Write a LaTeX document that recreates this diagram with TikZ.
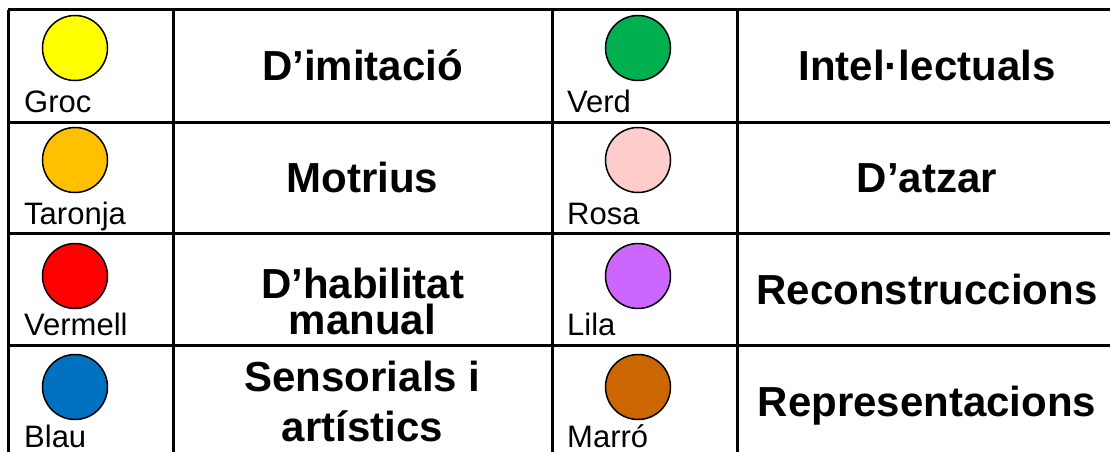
\documentclass[tikz,border=0pt]{standalone}
\usepackage{fontspec}
\setmainfont{Liberation Sans}

\definecolor{groc}{RGB}{255,255,0}
\definecolor{taronja}{RGB}{255,192,0}
\definecolor{vermell}{RGB}{255,0,0}
\definecolor{blau}{RGB}{0,112,192}
\definecolor{verd}{RGB}{0,176,80}
\definecolor{rosa}{RGB}{255,204,204}
\definecolor{lila}{RGB}{204,102,255}
\definecolor{marro}{RGB}{204,102,0}

\begin{document}
\begin{tikzpicture}[x=1pt,y=1pt,yscale=-1,xscale=1,
  dot/.style={circle,draw=black,line width=1.5pt,minimum size=65pt,inner sep=0pt},
  colname/.style={anchor=base west,inner sep=0pt,font=\fontsize{31}{31}\selectfont},
  kind/.style={inner sep=0pt,align=center,font=\bfseries\fontsize{42}{36}\selectfont},
  rule/.style={line width=3pt}]
\useasboundingbox (0,0) rectangle (1110,452);
\clip (0,0) rectangle (1110,452);

%Table lines
\draw [rule] (8,10) -- (1117,10) ;
\draw [rule] (8,122) -- (1117,122) ;
\draw [rule] (8,233) -- (1117,233) ;
\draw [rule] (8,345) -- (1117,345) ;
\draw [rule] (8,457) -- (1117,457) ;
\draw [rule] (8,10) -- (8,457) ;
\draw [rule] (173,10) -- (173,457) ;
\draw [rule] (552,10) -- (552,457) ;
\draw [rule] (737,10) -- (737,457) ;
\draw [rule] (1117,10) -- (1117,457) ;

% Colour circles
\node [dot, fill=groc] (cGroc) at (75,48) {};
\node [dot, fill=taronja] (cTaronja) at (75,160) {};
\node [dot, fill=vermell] (cVermell) at (75,276) {};
\node [dot, fill=blau] (cBlau) at (75,387) {};
\node [dot, fill=verd] (cVerd) at (638,48) {};
\node [dot, fill=rosa] (cRosa) at (638,160) {};
\node [dot, fill=lila] (cLila) at (638,276) {};
\node [dot, fill=marro] (cMarro) at (638,387) {};

% Colour names
\node [colname] (nGroc) at (24,112) {Groc};
\node [colname] (nTaronja) at (24,224) {Taronja};
\node [colname] (nVermell) at (24,335) {Vermell};
\node [colname] (nBlau) at (24,447) {Blau};
\node [colname] (nVerd) at (567,112) {Verd};
\node [colname] (nRosa) at (567,224) {Rosa};
\node [colname] (nLila) at (567,335) {Lila};
\node [colname] (nMarro) at (567,447) {Marró};

% Kinds
\node [kind, anchor=base] (kImitacio) at (362.5,81) {D’imitació};
\node [kind, anchor=base] (kMotrius) at (362.5,192.5) {Motrius};
\node [kind] (kHabilitat) at (362.5,301.5) {D’habilitat\\manual};
\node [kind, font=\bfseries\fontsize{42}{50}\selectfont] (kSensorials) at (362.5,401) {Sensorials i\\artístics};
\node [kind, anchor=base] (kIntel) at (927,81) {Intel·lectuals};
\node [kind, anchor=base] (kAtzar) at (927,192.5) {D’atzar};
\node [kind, anchor=base] (kRecons) at (927,304) {Reconstruccions};
\node [kind, anchor=base] (kRepres) at (927,416) {Representacions};

\end{tikzpicture}
\end{document}
